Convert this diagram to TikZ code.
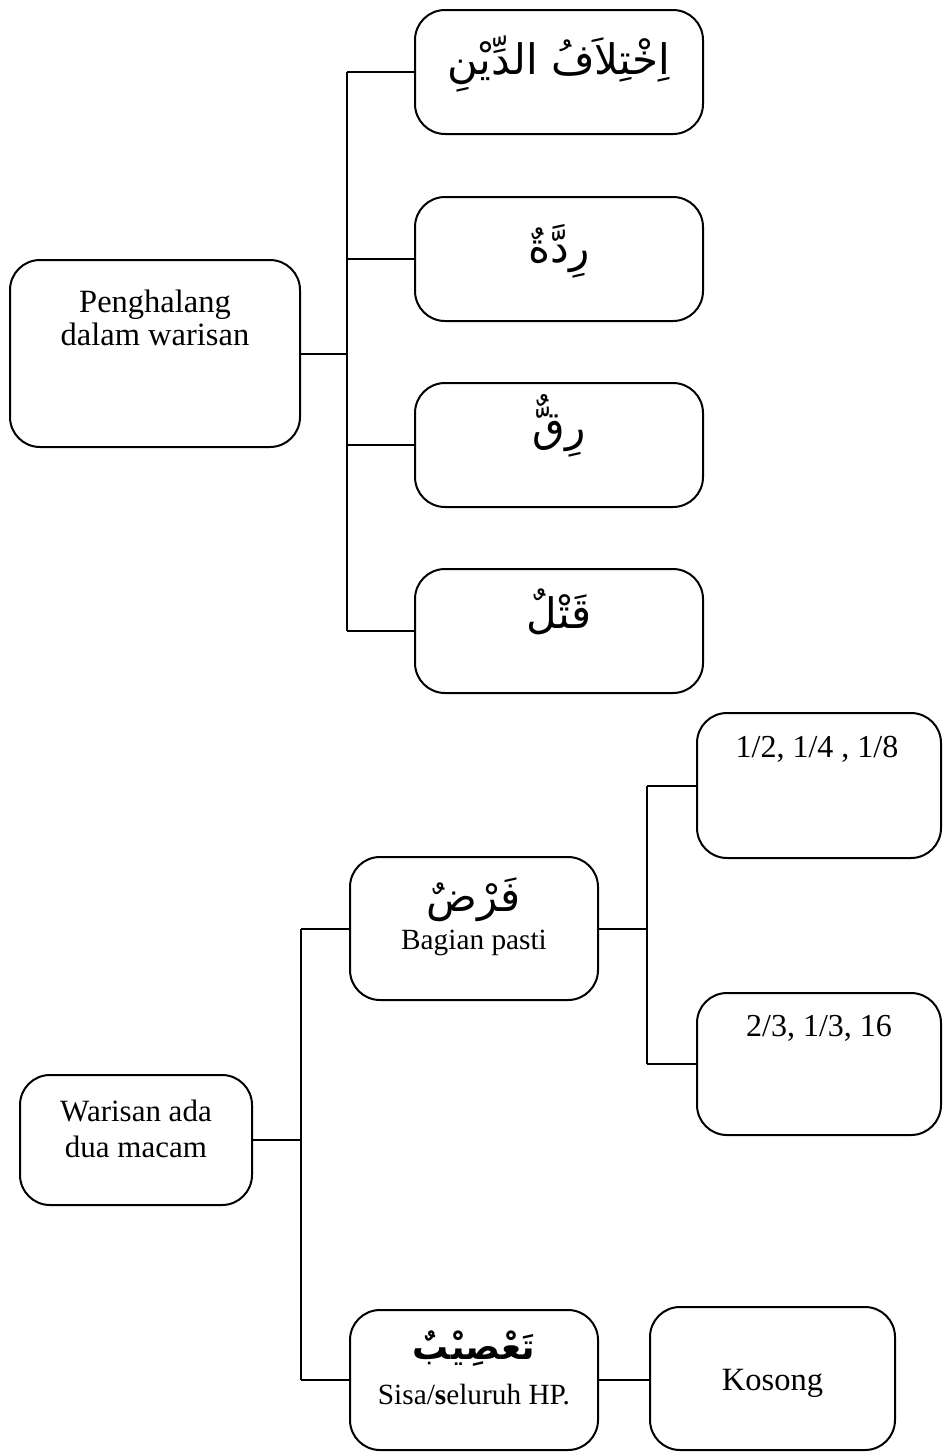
\documentclass[tikz,border=0pt]{standalone}
\usepackage{fontspec}
\setmainfont{Liberation Serif}
\newfontfamily\arabicfont[Script=Arabic]{DejaVu Sans}
\TeXXeTstate=1
\usetikzlibrary{positioning}

\tikzset{
  kotak/.style={draw, line width=2pt, rounded corners=30pt, inner sep=0pt},
  teks/.style={font=\fontsize{32}{34}\selectfont, align=center, inner sep=0pt},
  teksbawah/.style={teks, font=\fontsize{29.3}{34}\selectfont},
  arab/.style={font=\arabicfont\fontsize{42}{50}\selectfont, inner sep=0pt, anchor=base},
  garis/.style={line width=2pt},
}

\begin{document}
\begin{tikzpicture}[x=1pt, y=-1pt]
\useasboundingbox (0,0) rectangle (943,1452);

% penghalang dalam warisan
\node[kotak, minimum width=290pt, minimum height=187pt] (halang) at (155,353.5) {};
\node[teks, font=\fontsize{32.5}{32.5}\selectfont, below=31pt of halang.north] (thalang) {Penghalang\\dalam warisan};

\foreach \nama/\yy/\turun/\isi in {ikhtilaf/72/65/{اِخْتِلاَفُ الدِّيْنِ}, riddah/259/66/{رِدَّةٌ},
    riqq/445/59/{رِقٌّ}, qatl/631/60/{قَتْلٌ}} {
  \node[kotak, minimum width=288pt, minimum height=124pt] (\nama) at (559,\yy) {};
  \node[arab] (t\nama) at ([yshift=-\turun pt]\nama.north) {\beginR\isi\endR};
}

\draw[garis] (halang.east) -- ++(46,0) coordinate (simpul1);
\draw[garis] (simpul1 |- ikhtilaf.west) -- (simpul1 |- qatl.west);
\foreach \nama in {ikhtilaf, riddah, riqq, qatl}
  \draw[garis] (simpul1 |- \nama.west) -- (\nama.west);

% warisan ada dua macam
\node[kotak, minimum width=232pt, minimum height=130pt] (warisan) at (136,1140) {};
\node[teks, font=\fontsize{31}{36}\selectfont, below=26pt of warisan.north] (twarisan) {Warisan ada\\dua macam};

\node[kotak, minimum width=248pt, minimum height=143pt] (fardh) at (474,928.5) {};
\node[arab] (tfardh) at ([yshift=-55pt]fardh.north) {\beginR فَرْضٌ\endR};
\node[teksbawah, anchor=base] (tfardh2) at ([yshift=-93pt]fardh.north) {Bagian pasti};

\node[kotak, minimum width=248pt, minimum height=140pt] (tasib) at (474,1380) {};
\node[arab, font=\arabicfont\bfseries\fontsize{36}{44}\selectfont] (ttasib) at ([yshift=-50pt]tasib.north) {\beginR تَعْصِيْبٌ\endR};
\node[teksbawah, anchor=base] (ttasib2) at ([yshift=-95pt]tasib.north) {Sisa/\textbf{s}eluruh HP.};

\node[kotak, minimum width=244pt, minimum height=145pt] (satu) at (819,785.5) {};
\node[teks, anchor=base] (tsatu) at ([xshift=-2pt, yshift=-45pt]satu.north) {1/2, 1/4 , 1/8};

\node[kotak, minimum width=244pt, minimum height=142pt] (dua) at (819,1064) {};
\node[teks, anchor=base] (tdua) at ([yshift=-44pt]dua.north) {2/3, 1/3, 16};

\node[kotak, minimum width=245pt, minimum height=143pt] (kosong) at (772.5,1378.5) {};
\node[teks, font=\fontsize{32.5}{34}\selectfont, anchor=base] (tkosong) at ([yshift=-11.5pt]kosong.center) {Kosong};

\draw[garis] (warisan.east) -- ++(48,0) coordinate (simpul2);
\draw[garis] (simpul2 |- fardh.west) -- (simpul2 |- tasib.west);
\foreach \nama in {fardh, tasib}
  \draw[garis] (simpul2 |- \nama.west) -- (\nama.west);

\draw[garis] (fardh.east) -- ++(48,0) coordinate (simpul3);
\draw[garis] (simpul3 |- satu.west) -- (simpul3 |- dua.west);
\foreach \nama in {satu, dua}
  \draw[garis] (simpul3 |- \nama.west) -- (\nama.west);

\draw[garis] (tasib.east) -- (tasib.east -| kosong.west);
\end{tikzpicture}
\end{document}
